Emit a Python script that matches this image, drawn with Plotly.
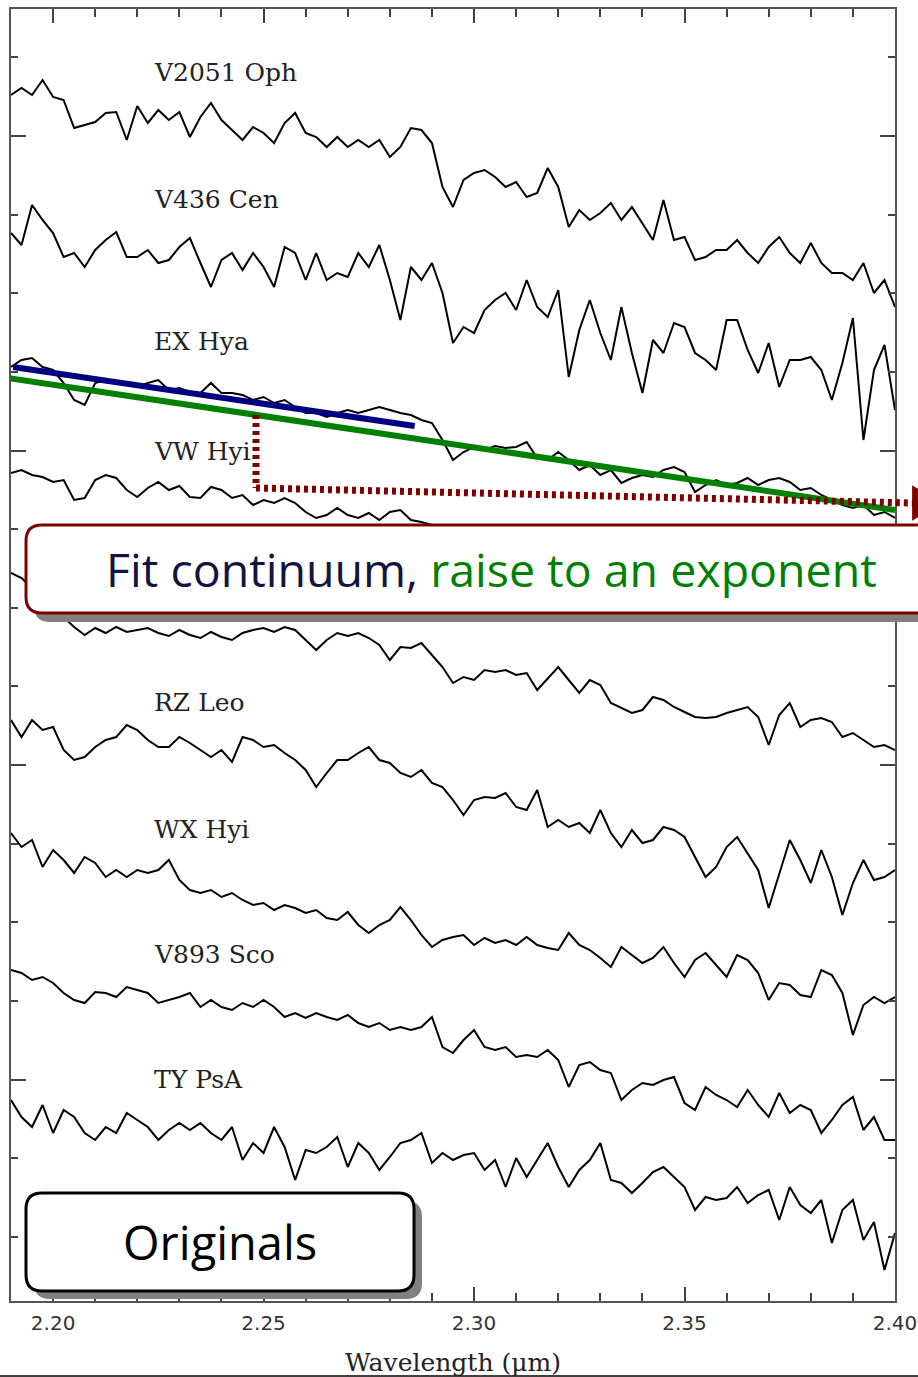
import plotly.graph_objects as go

# ---------------- data ----------------
# wavelength grid (micron)
wavelength = [round(2.19 + 0.0025 * i, 4) for i in range(85)]

v2051_oph = [12.06, 12.13, 12.06, 12.21, 12.04, 12.01, 11.73, 11.76, 11.79, 11.88,
             11.89, 11.61, 11.95, 11.78, 11.91, 11.81, 11.89, 11.64, 11.84, 11.98,
             11.81, 11.71, 11.61, 11.74, 11.68, 11.58, 11.78, 11.88, 11.68, 11.64,
             11.54, 11.64, 11.54, 11.61, 11.54, 11.61, 11.44, 11.54, 11.73, 11.71,
             11.58, 11.14, 10.94, 11.21, 11.28, 11.31, 11.24, 11.14, 11.19, 11.04,
             11.08, 11.33, 11.14, 10.74, 10.91, 10.81, 10.88, 10.98, 10.81, 10.94,
             10.78, 10.61, 11.01, 10.61, 10.64, 10.41, 10.44, 10.51, 10.51, 10.61,
             10.48, 10.38, 10.54, 10.64, 10.48, 10.38, 10.58, 10.38, 10.28, 10.28,
             10.21, 10.38, 10.08, 10.21, 9.94]

v436_cen = [10.68, 10.56, 10.96, 10.81, 10.68, 10.44, 10.48, 10.34, 10.51, 10.61,
            10.69, 10.44, 10.44, 10.51, 10.38, 10.41, 10.54, 10.63, 10.38, 10.14,
            10.41, 10.48, 10.31, 10.48, 10.34, 10.14, 10.54, 10.48, 10.21, 10.48,
            10.21, 10.28, 10.24, 10.48, 10.34, 10.56, 10.21, 9.81, 10.34, 10.21,
            10.38, 10.08, 9.58, 9.74, 9.68, 9.91, 10.01, 10.08, 9.91, 10.21,
            9.94, 9.84, 10.11, 9.24, 9.71, 10.01, 9.68, 9.41, 9.94, 9.48,
            9.08, 9.61, 9.48, 9.78, 9.74, 9.48, 9.41, 9.31, 9.81, 9.81,
            9.51, 9.28, 9.58, 9.14, 9.41, 9.41, 9.44, 9.31, 9.01, 9.38,
            9.83, 8.61, 9.31, 9.56, 8.91]

ex_hya = [9.34, 9.41, 9.43, 9.34, 9.31, 9.18, 9.01, 8.96, 9.18, 9.21,
          9.18, 9.18, 9.14, 9.18, 9.21, 9.11, 9.13, 9.09, 9.08, 9.18,
          9.08, 9.08, 9.06, 9.01, 9.04, 8.98, 9.01, 8.94, 8.88, 8.88,
          8.84, 8.88, 8.91, 8.88, 8.91, 8.94, 8.91, 8.88, 8.86, 8.81,
          8.78, 8.61, 8.41, 8.49, 8.54, 8.51, 8.55, 8.53, 8.54, 8.59,
          8.43, 8.41, 8.49, 8.41, 8.31, 8.36, 8.26, 8.31, 8.18, 8.23,
          8.26, 8.24, 8.31, 8.34, 8.29, 8.09, 8.16, 8.21, 8.16, 8.18,
          8.23, 8.16, 8.21, 8.23, 8.19, 8.11, 8.13, 8.06, 8.01, 7.96,
          7.93, 7.96, 7.86, 7.89, 7.83]

vw_hyi = [8.28, 8.31, 8.26, 8.24, 8.19, 8.21, 8.01, 8.03, 8.21, 8.26,
          8.23, 8.11, 8.04, 8.13, 8.19, 8.11, 8.15, 8.04, 8.03, 8.14,
          8.11, 8.03, 8.06, 7.96, 8.01, 7.98, 8.03, 7.98, 7.89, 7.83,
          7.86, 7.93, 7.86, 7.83, 7.88, 7.81, 7.89, 7.91, 7.81, 7.79,
          7.76, 7.73, 7.61, 7.65, 7.67, 7.63, 7.65, 7.61, 7.63, 7.59,
          7.56, 7.58, 7.55, 7.51, 7.53, 7.49, 7.51, 7.47, 7.45, 7.48,
          7.44, 7.42, 7.45, 7.41, 7.39, 7.41, 7.38, 7.36, 7.39, 7.35,
          7.33, 7.36, 7.32, 7.30, 7.33, 7.29, 7.27, 7.30, 7.26, 7.24,
          7.27, 7.23, 7.21, 7.24, 7.21]

hidden_star = [7.28, 7.23, 7.13, 7.03, 6.93, 6.83, 6.74, 6.66, 6.73, 6.68,
               6.74, 6.69, 6.71, 6.73, 6.68, 6.65, 6.71, 6.66, 6.63, 6.69,
               6.64, 6.61, 6.68, 6.71, 6.73, 6.69, 6.74, 6.71, 6.61, 6.51,
               6.61, 6.68, 6.65, 6.68, 6.63, 6.56, 6.41, 6.54, 6.53, 6.58,
               6.46, 6.34, 6.18, 6.24, 6.21, 6.31, 6.29, 6.31, 6.26, 6.28,
               6.11, 6.23, 6.34, 6.21, 6.08, 6.21, 6.16, 5.98, 5.93, 5.88,
               5.91, 6.04, 6.01, 5.94, 5.89, 5.84, 5.83, 5.84, 5.88, 5.91,
               5.94, 5.84, 5.56, 5.86, 5.98, 5.74, 5.81, 5.83, 5.79, 5.64,
               5.68, 5.61, 5.54, 5.56, 5.51]

rz_leo = [5.81, 5.64, 5.81, 5.71, 5.74, 5.51, 5.41, 5.44, 5.54, 5.61,
          5.64, 5.76, 5.71, 5.61, 5.54, 5.54, 5.64, 5.58, 5.51, 5.44,
          5.51, 5.39, 5.64, 5.61, 5.54, 5.56, 5.48, 5.41, 5.31, 5.14,
          5.28, 5.41, 5.41, 5.48, 5.54, 5.41, 5.38, 5.28, 5.24, 5.31,
          5.18, 5.14, 5.01, 4.86, 5.01, 5.04, 5.03, 5.08, 4.94, 4.91,
          5.11, 4.74, 4.81, 4.74, 4.78, 4.68, 4.91, 4.68, 4.54, 4.71,
          4.58, 4.61, 4.74, 4.71, 4.64, 4.44, 4.24, 4.34, 4.54, 4.64,
          4.48, 4.31, 3.93, 4.28, 4.61, 4.41, 4.18, 4.51, 4.24, 3.86,
          4.18, 4.41, 4.21, 4.24, 4.31]

wx_hyi = [4.68, 4.54, 4.61, 4.34, 4.51, 4.41, 4.28, 4.44, 4.38, 4.24,
          4.31, 4.24, 4.31, 4.28, 4.31, 4.41, 4.21, 4.11, 4.08, 4.11,
          4.04, 4.08, 4.01, 3.96, 3.98, 3.91, 3.96, 3.93, 3.88, 3.91,
          3.83, 3.81, 3.89, 3.76, 3.68, 3.76, 3.81, 3.94, 3.81, 3.66,
          3.54, 3.61, 3.64, 3.66, 3.56, 3.63, 3.58, 3.61, 3.56, 3.64,
          3.56, 3.53, 3.51, 3.68, 3.56, 3.51, 3.43, 3.34, 3.54, 3.46,
          3.38, 3.43, 3.54, 3.38, 3.24, 3.41, 3.48, 3.36, 3.24, 3.46,
          3.41, 3.28, 3.01, 3.18, 3.16, 3.06, 3.04, 3.31, 3.26, 3.08,
          2.66, 2.96, 3.04, 2.98, 3.04]

v893_sco = [3.31, 3.28, 3.21, 3.24, 3.18, 3.08, 3.01, 2.98, 3.09, 3.08,
            3.04, 3.14, 3.11, 3.08, 2.98, 3.01, 3.04, 3.08, 2.94, 3.01,
            2.94, 2.91, 2.98, 2.94, 3.01, 2.94, 2.84, 2.88, 2.83, 2.88,
            2.84, 2.81, 2.86, 2.78, 2.74, 2.78, 2.71, 2.74, 2.71, 2.74,
            2.84, 2.54, 2.48, 2.61, 2.71, 2.54, 2.51, 2.54, 2.44, 2.46,
            2.44, 2.51, 2.41, 2.14, 2.36, 2.39, 2.31, 2.28, 2.01, 2.11,
            2.18, 2.16, 2.21, 2.24, 1.98, 1.91, 2.14, 2.06, 2.01, 1.94,
            2.11, 1.96, 1.84, 2.08, 1.88, 1.96, 1.91, 1.68, 1.81, 1.96,
            2.04, 1.71, 1.84, 1.61, 1.61]

ty_psa = [2.01, 1.84, 1.74, 1.96, 1.68, 1.91, 1.84, 1.68, 1.61, 1.74,
          1.68, 1.88, 1.81, 1.74, 1.61, 1.71, 1.78, 1.71, 1.78, 1.68,
          1.61, 1.74, 1.41, 1.58, 1.48, 1.74, 1.54, 1.21, 1.51, 1.48,
          1.54, 1.64, 1.34, 1.58, 1.48, 1.31, 1.44, 1.58, 1.61, 1.68,
          1.38, 1.48, 1.41, 1.46, 1.48, 1.31, 1.41, 1.14, 1.43, 1.24,
          1.41, 1.58, 1.34, 1.14, 1.31, 1.41, 1.58, 1.21, 1.18, 1.08,
          1.18, 1.29, 1.34, 1.24, 1.14, 0.91, 1.04, 1.01, 1.03, 1.14,
          0.98, 1.06, 1.11, 0.81, 1.14, 0.96, 0.88, 1.01, 0.58, 0.91,
          1.01, 0.61, 0.79, 0.31, 0.68]

spectra = [v2051_oph, v436_cen, ex_hya, vw_hyi, hidden_star,
           rz_leo, wx_hyi, v893_sco, ty_psa]

# labels of visible star names
star_names = ["V2051 Oph", "V436 Cen", "EX Hya", "VW Hyi",
              "RZ Leo", "WX Hyi", "V893 Sco", "TY PsA"]
label_wl = 2.2236
label_flux = [12.29, 11.02, 9.60, 8.50, 5.99, 4.72, 3.47, 2.22]

# continuum fits (EX Hya)
blue_fit_wl = [2.1905, 2.2859]
blue_fit_flux = [9.34, 8.75]
green_fit_wl = [2.1893, 2.4000]
green_fit_flux = [9.23, 7.91]

# dotted guide (data units)
guide_wl = [2.2482, 2.2482, 2.4043]
guide_flux = [8.86, 8.13, 7.98]

x_ticks = [2.20, 2.25, 2.30, 2.35, 2.40]

# ---------------- layout helpers ----------------
W, H = 918, 1377
ML, MR, MT, MB = 11, 23, 9, 76
PW, PH = W - ML - MR, H - MT - MB
XR = [2.19, 2.40]
YR = [0.0, 12.92]


def px(x, y):
    return (x - ML) / PW, (H - MB - y) / PH


def d2p(w, f):
    return (w - XR[0]) / (XR[1] - XR[0]), (f - YR[0]) / (YR[1] - YR[0])


def P(x, y):
    a, b = px(x, y)
    return f"{a:.5f},{b:.5f}"


def rrect(x0, y0, x1, y1, r):
    return (f"M{P(x0 + r, y0)} L{P(x1 - r, y0)} Q{P(x1, y0)} {P(x1, y0 + r)} "
            f"L{P(x1, y1 - r)} Q{P(x1, y1)} {P(x1 - r, y1)} "
            f"L{P(x0 + r, y1)} Q{P(x0, y1)} {P(x0, y1 - r)} "
            f"L{P(x0, y0 + r)} Q{P(x0, y0)} {P(x0 + r, y0)} Z")


fig = go.Figure()

for s in spectra:
    assert len(s) == len(wavelength)
    fig.add_trace(go.Scatter(x=wavelength, y=s, mode="lines",
                             line=dict(color="black", width=2.0),
                             showlegend=False, hoverinfo="skip"))

fig.add_trace(go.Scatter(x=green_fit_wl, y=green_fit_flux, mode="lines",
                         line=dict(color="#008000", width=6), showlegend=False))
fig.add_trace(go.Scatter(x=blue_fit_wl, y=blue_fit_flux, mode="lines",
                         line=dict(color="#000080", width=6), showlegend=False))

shapes = []
red = "#800000"
g0 = d2p(guide_wl[0], guide_flux[0])
g1 = d2p(guide_wl[1], guide_flux[1])
g2 = d2p(guide_wl[2], guide_flux[2])
shapes.append(dict(type="line", xref="paper", yref="paper", x0=g0[0], y0=g0[1],
                   x1=g1[0], y1=g1[1], line=dict(color=red, width=7, dash="4px,4px"),
                   layer="above"))
shapes.append(dict(type="line", xref="paper", yref="paper", x0=g1[0], y0=g1[1],
                   x1=g2[0], y1=g2[1], line=dict(color=red, width=7, dash="4px,4px"),
                   layer="above"))
# arrow head at the right edge
ax, ay = g2
dx = 1.0 / PW
dy = 1.0 / PH
shapes.append(dict(type="path", xref="paper", yref="paper",
                   path=f"M{ax:.5f},{ay + 16 * dy:.5f} L{ax + 26 * dx:.5f},{ay:.5f} "
                        f"L{ax:.5f},{ay - 16 * dy:.5f} Z",
                   fillcolor=red, line=dict(color=red, width=2), layer="above"))

# boxes
shapes.append(dict(type="path", xref="paper", yref="paper", path=rrect(34, 534, 950, 622, 16),
                   fillcolor="#808080", line=dict(width=0), layer="above"))
shapes.append(dict(type="path", xref="paper", yref="paper", path=rrect(26, 525, 945, 613, 16),
                   fillcolor="white", line=dict(color=red, width=3), layer="above"))
shapes.append(dict(type="path", xref="paper", yref="paper", path=rrect(34, 1201, 422, 1299, 16),
                   fillcolor="#808080", line=dict(width=0), layer="above"))
shapes.append(dict(type="path", xref="paper", yref="paper", path=rrect(26, 1193, 414, 1291, 16),
                   fillcolor="white", line=dict(color="black", width=3), layer="above"))
# bottom frame line of the picture
bl = px(0, 1376)
br = px(W, 1376)
shapes.append(dict(type="line", xref="paper", yref="paper", x0=bl[0], y0=bl[1], x1=br[0], y1=br[1],
                   line=dict(color="black", width=1.5), layer="above"))

annotations = []
for name, fy in zip(star_names, label_flux):
    annotations.append(dict(x=label_wl, y=fy, xref="x", yref="y", text=name, showarrow=False,
                            xanchor="left", yanchor="middle",
                            font=dict(family="DejaVu Serif", size=25, color="#222222")))

tx, ty = px(492, 569)
annotations.append(dict(x=tx, y=ty, xref="paper", yref="paper", showarrow=False,
                        xanchor="center", yanchor="middle",
                        text="<span style='color:#141440'>Fit continuum, </span>"
                             "<span style='color:#008000'>raise to an exponent</span>",
                        font=dict(family="Open Sans", size=46.5)))
ox, oy = px(220, 1242)
annotations.append(dict(x=ox, y=oy, xref="paper", yref="paper", showarrow=False,
                        xanchor="center", yanchor="middle", text="Originals",
                        font=dict(family="Open Sans", size=47, color="black")))

fig.update_layout(
    width=W, height=H,
    margin=dict(l=ML, r=MR, t=MT, b=MB, pad=0),
    paper_bgcolor="white", plot_bgcolor="white",
    shapes=shapes, annotations=annotations,
    showlegend=False,
)
fig.update_xaxes(range=XR, tickmode="array", tickvals=x_ticks,
                 ticktext=[f"{v:.2f}" for v in x_ticks],
                 ticks="inside", ticklen=14, tickwidth=1.5, tickcolor="#444",
                 minor=dict(ticks="inside", ticklen=8, dtick=0.01, tick0=2.2,
                            tickwidth=1.5, tickcolor="#444"),
                 showline=True, linecolor="#555", linewidth=2, mirror="ticks",
                 showgrid=False, zeroline=False,
                 ticklabelstandoff=3,
                 tickfont=dict(family="DejaVu Sans", size=20, color="#333"),
                 title=dict(text="Wavelength (μm)", standoff=22,
                            font=dict(family="DejaVu Serif", size=25, color="#222")),
                 automargin=False)
fig.update_yaxes(range=YR, tickmode="linear", tick0=2.215, dtick=3.145,
                 ticks="inside", ticklen=15, tickwidth=1.5, tickcolor="#444",
                 minor=dict(ticks="inside", ticklen=7, dtick=0.78625, tick0=0.6425,
                            tickwidth=1.5, tickcolor="#444"),
                 showticklabels=False,
                 showline=True, linecolor="#555", linewidth=2, mirror="ticks",
                 showgrid=False, zeroline=False, automargin=False)

fig.write_html("out.html")
